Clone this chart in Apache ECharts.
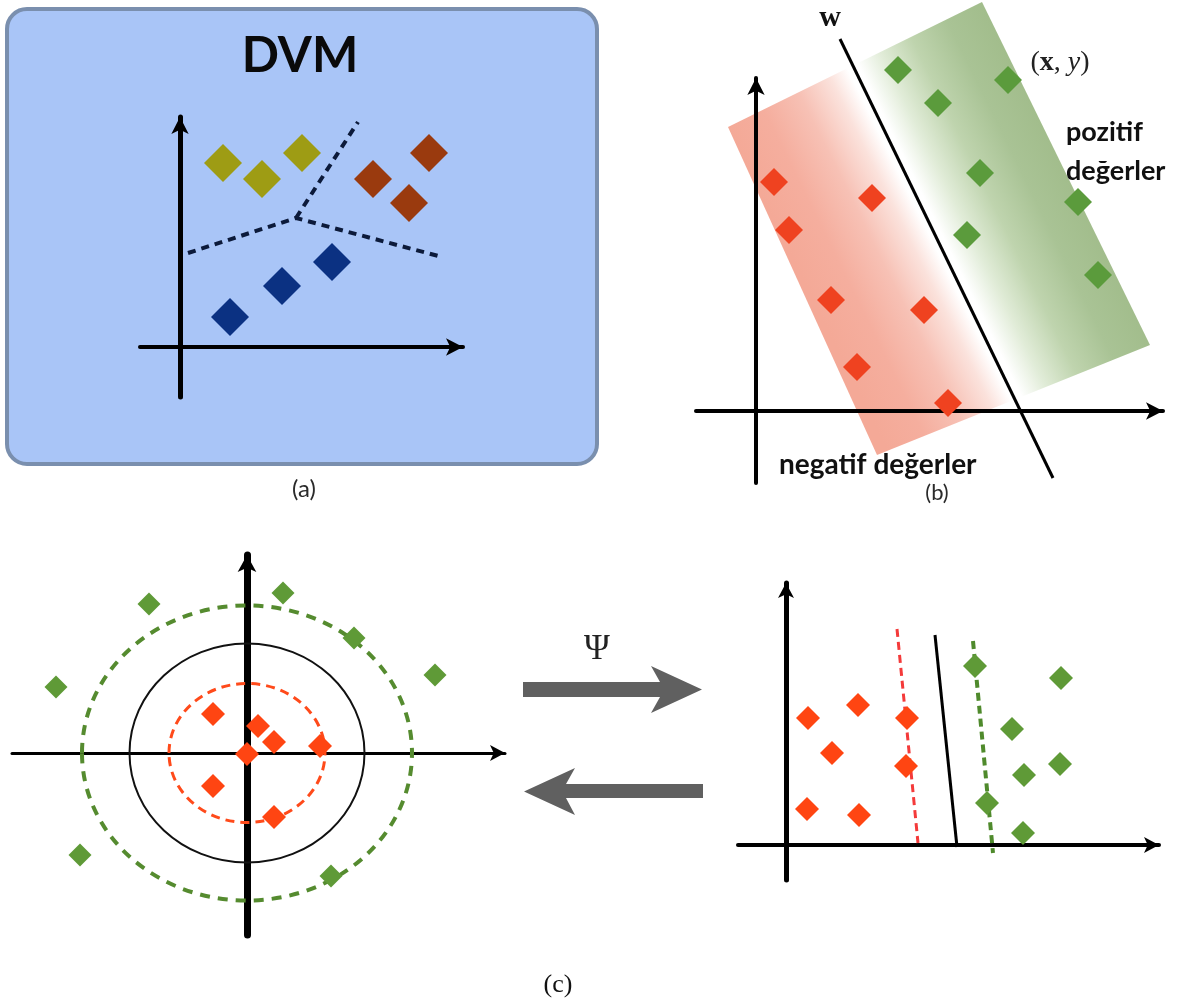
<!DOCTYPE html>
<html>
<head>
<meta charset="utf-8">
<script src="https://cdn.jsdelivr.net/npm/echarts@6/dist/echarts.min.js"></script>
<style>
  html, body { margin: 0; padding: 0; background: #fff; }
  #chart { width: 1188px; height: 1003px; }
</style>
</head>
<body>
<div id="chart"></div>
<script>
// ---------- DATA (axis units; origin at each panel's axis crossing) ----------
// Panel (a) DVM
const aOlive = [[4.3, 18.4], [8.2, 16.8], [12.2, 19.4]];
const aBrown = [[19.3, 16.8], [24.9, 19.4], [22.9, 14.4]];
const aNavy = [[5.0, 3.0], [10.2, 6.1], [15.2, 8.5]];
const aBoundaryLow = [[0.8, 9.4], [11.6, 12.9], [26.2, 9.0]];
const aBoundaryUp = [[11.6, 12.9], [17.8, 22.5]];

// Panel (b) linear separator
const bNegative = [[1.8, 22.9], [11.6, 21.3], [3.3, 18.1], [7.5, 11.1], [16.8, 10.1], [10.1, 4.4], [19.2, 0.8]];
const bPositive = [[14.2, 34.1], [25.2, 33.1], [18.2, 30.8], [22.4, 23.8], [32.2, 20.9], [21.1, 17.6], [34.2, 13.6]];
const bHyperplane = [[8.4, 37.2], [29.7, -6.7]];
const bBand = [[-2.8, 28.4, 22.6, 40.9, 39.4, 6.6, 12.1, -4.4]]; // TL, TR, BR, BL corners

// Panel (c) left: input space
const cInner = [[-3.4, 3.9], [1.1, 2.7], [2.7, 1.1], [7.3, 0.7], [0, -0.1], [-3.4, -3.3], [2.7, -6.4]];
const cOuter = [[-9.8, 14.9], [3.6, 16.0], [10.7, 11.5], [18.8, 7.8], [-19.1, 6.6], [-16.7, -10.2], [8.4, -12.3]];
const cRedCircle = [[0, 0, 7.8, 6.95]];     // cx, cy, rx, ry
const cBlackCircle = [[0, 0, 11.75, 10.95]];
const cGreenCircle = [[0, 0, 16.5, 14.75]];

// Panel (c) right: feature space
const dNegative = [[2.2, 12.7], [7.2, 14.0], [12.1, 12.7], [4.6, 9.2], [12.0, 7.9], [2.1, 3.6], [7.3, 3.0]];
const dPositive = [[18.9, 17.9], [27.5, 16.7], [22.6, 11.6], [27.4, 8.1], [23.8, 7.0], [20.1, 4.2], [23.7, 1.2]];
const dRedMargin = [[11.1, 21.6], [13.2, 0.2]];
const dSeparator = [[14.9, 21.0], [17.1, -0.2]];
const dGreenMargin = [[18.7, 20.4], [20.7, -0.8]];

// Texts
const titleText = 'DVM';
const panelLabels = ['(a)', '(b)', '(c)'];
const posText = ['pozitif', 'değerler'];
const negText = 'negatif değerler';
const mapText = 'Ψ';

// ---------- CHART ----------
const chart = echarts.init(document.getElementById('chart'), null, { renderer: 'canvas' });

function axis(gridIndex, min, max, width, arrow) {
  return {
    type: 'value', gridIndex, min, max,
    axisLine: { show: true, onZero: true, symbol: ['none', 'arrow'], symbolSize: arrow,
      lineStyle: { color: '#000', width } },
    axisTick: { show: false }, axisLabel: { show: false }, splitLine: { show: false }
  };
}
function diamonds(gi, data, size, color) {
  return { type: 'scatter', xAxisIndex: gi, yAxisIndex: gi, data, symbol: 'diamond',
    symbolSize: size, itemStyle: { color, opacity: 1 }, clip: false, silent: true, z: 5 };
}
function seg(gi, data, color, width, type) {
  return { type: 'line', xAxisIndex: gi, yAxisIndex: gi, data, showSymbol: false, symbol: 'none',
    lineStyle: { color, width, type, cap: 'butt' }, clip: false, silent: true, z: 4 };
}
function ellipse(gi, data, stroke, lineWidth, dash) {
  return { type: 'custom', xAxisIndex: gi, yAxisIndex: gi, data, clip: false, silent: true, z: 3,
    renderItem: (params, api) => {
      const c = api.coord([api.value(0), api.value(1)]);
      const s = api.size([api.value(2), api.value(3)]);
      return { type: 'ellipse', shape: { cx: c[0], cy: c[1], rx: s[0], ry: s[1] },
        style: { fill: 'none', stroke, lineWidth, lineDash: dash } };
    } };
}
const mid = { textVerticalAlign: 'middle', verticalAlign: 'middle' };

const option = {
  backgroundColor: '#ffffff',
  animation: false,
  grid: [
    { left: 140, top: 117, width: 323, height: 280 },
    { left: 696, top: 78, width: 467, height: 405 },
    { left: 12, top: 555, width: 493, height: 380 },
    { left: 738, top: 583, width: 421, height: 297 }
  ],
  xAxis: [
    axis(0, -4, 28.3, 4, [13, 17]),
    axis(1, -6, 40.7, 4, [13, 17]),
    axis(2, -23.5, 25.8, 3, [12, 15]),
    axis(3, -4.8, 37.3, 4, [12, 15])
  ],
  yAxis: [
    axis(0, -5, 23, 5, [13, 17]),
    axis(1, -7.2, 33.3, 4, [13, 17]),
    axis(2, -18.2, 19.8, 7, [14, 17]),
    axis(3, -3.5, 26.2, 5, [12, 15])
  ],
  graphic: [
    { type: 'rect', z: -10, silent: true,
      shape: { x: 7, y: 9, width: 590, height: 455, r: 20 },
      style: { fill: '#a9c5f7', stroke: '#7a8fae', lineWidth: 4 } },
    { type: 'text', x: 300, y: 56, silent: true,
      style: Object.assign({ text: titleText, font: 'bold 49px Lato', fill: '#0a0a0a', textAlign: 'center' }, mid) },
    { type: 'text', x: 304, y: 489, silent: true,
      style: Object.assign({ text: panelLabels[0], font: '24px Lato', fill: '#2a2a2a', textAlign: 'center' }, mid) },
    { type: 'text', x: 830, y: 18, silent: true,
      style: Object.assign({ text: 'w', font: 'bold 30px "Liberation Serif"', fill: '#111', textAlign: 'center' }, mid) },
    { type: 'text', x: 1060, y: 63, silent: true,
      style: Object.assign({ text: '{p|(}{b|x}{p|, }{i|y}{p|)}', textAlign: 'center',
        rich: { p: { font: '28px "Liberation Serif"', fill: '#222' }, b: { font: 'bold 28px "Liberation Serif"', fill: '#222' }, i: { font: 'italic 28px "Liberation Serif"', fill: '#222' } } }, mid) },
    { type: 'text', x: 1066, y: 132, silent: true,
      style: Object.assign({ text: posText[0], font: 'bold 27px Lato', fill: '#111', textAlign: 'left' }, mid) },
    { type: 'text', x: 1066, y: 171, silent: true,
      style: Object.assign({ text: posText[1], font: 'bold 27px Lato', fill: '#111', textAlign: 'left' }, mid) },
    { type: 'text', x: 779, y: 465, silent: true,
      style: Object.assign({ text: negText, font: 'bold 28px Lato', fill: '#111', textAlign: 'left' }, mid) },
    { type: 'text', x: 937, y: 493, silent: true,
      style: Object.assign({ text: panelLabels[1], font: '22px Lato', fill: '#2a2a2a', textAlign: 'center' }, mid) },
    { type: 'text', x: 597, y: 650, silent: true,
      style: Object.assign({ text: mapText, font: '35px "Liberation Serif"', fill: '#222', textAlign: 'center' }, mid) },
    { type: 'text', x: 558, y: 985, silent: true,
      style: Object.assign({ text: panelLabels[2], font: '26px "Liberation Serif"', fill: '#111', textAlign: 'center' }, mid) },
    { type: 'polygon', silent: true,
      shape: { points: [[523, 682], [660, 682], [651, 666], [702, 689.5], [651, 713], [660, 697], [523, 697]] },
      style: { fill: '#606060' } },
    { type: 'polygon', silent: true,
      shape: { points: [[703, 784], [566, 784], [575, 768], [524, 791.5], [575, 815], [566, 798], [703, 798]] },
      style: { fill: '#606060' } }
  ],
  series: [
    // (a)
    seg(0, aBoundaryLow, '#0c1a3a', 4, [8, 6]),
    seg(0, aBoundaryUp, '#0c1a3a', 4, [8, 6]),
    diamonds(0, aOlive, 38, '#9e9c14'),
    diamonds(0, aBrown, 38, '#9a3a0e'),
    diamonds(0, aNavy, 38, '#0b3182'),
    // (b)
    { type: 'custom', xAxisIndex: 1, yAxisIndex: 1, data: bBand, clip: false, silent: true, z: -1,
      renderItem: (params, api) => {
        const pts = [];
        for (let i = 0; i < 4; i++) pts.push(api.coord([api.value(2 * i), api.value(2 * i + 1)]));
        const grad = new echarts.graphic.LinearGradient(pts[0][0], pts[0][1], pts[1][0], pts[1][1], [
          { offset: 0, color: '#f4a997' }, { offset: 0.14, color: '#f5ae9e' }, { offset: 0.28, color: '#f7c1b5' },
          { offset: 0.4, color: '#fbe2dc' }, { offset: 0.47, color: '#ffffff' }, { offset: 0.51, color: '#ffffff' },
          { offset: 0.6, color: '#e1ecd8' }, { offset: 0.72, color: '#bfd4ae' },
          { offset: 0.86, color: '#a9c395' }, { offset: 1, color: '#a2bd8c' }
        ], true);
        return { type: 'polygon', shape: { points: pts }, style: { fill: grad } };
      } },
    seg(1, bHyperplane, '#000', 3, 'solid'),
    diamonds(1, bNegative, 28, '#ef4220'),
    diamonds(1, bPositive, 28, '#5b9b3c'),
    // (c) left
    ellipse(2, cGreenCircle, '#558b2f', 4, [10, 8]),
    ellipse(2, cBlackCircle, '#111', 2, null),
    ellipse(2, cRedCircle, '#ff4a1a', 3, [9, 6]),
    diamonds(2, cInner, 24, '#ff4512'),
    diamonds(2, cOuter, 23, '#5f9a37'),
    // (c) right
    seg(3, dRedMargin, '#f43a3a', 3, [8, 5]),
    seg(3, dSeparator, '#000', 3, 'solid'),
    seg(3, dGreenMargin, '#4f8a2c', 4, [8, 5]),
    diamonds(3, dNegative, 24, '#ff4512'),
    diamonds(3, dPositive, 24, '#5f9a37')
  ]
};
chart.setOption(option);
</script>
</body>
</html>
